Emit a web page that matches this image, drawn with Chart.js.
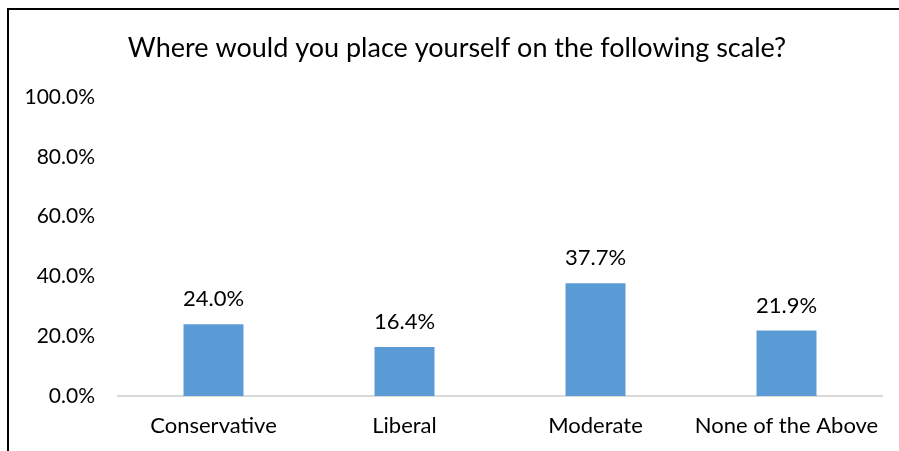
<!DOCTYPE html>
<html>
<head>
<meta charset="utf-8">
<script src="https://cdn.jsdelivr.net/npm/chart.js@4.4.1/dist/chart.umd.min.js"></script>
<style>
  body { margin: 0; background: #fff; overflow: hidden; }
  #caixa { position: absolute; left: 7px; top: 8px; border-left: 2px solid #000; border-top: 2px solid #000; }
  canvas { display: block; }
</style>
</head>
<body>
<div id="caixa"><canvas id="grafico" width="920" height="460"></canvas></div>
<script>
// Dados do gráfico
const categorias = ['Conservative', 'Liberal', 'Moderate', 'None of the Above'];
const valores = [24.0, 16.4, 37.7, 21.9];
const ticksY = [0, 20, 40, 60, 80, 100];
const titulo = 'Where would you place yourself on the following scale?';

const fonte = 'Lato, "Open Sans", sans-serif';

// Plugin simples para escrever o valor em cima de cada barra e o título
const rotulosBarras = {
    id: 'rotulosBarras',
    afterDatasetsDraw(chart) {
        const ctx = chart.ctx;
        const meta = chart.getDatasetMeta(0);
        ctx.save();
        ctx.font = '22px ' + fonte;
        ctx.fillStyle = '#000';
        ctx.textAlign = 'center';
        ctx.textBaseline = 'alphabetic';
        meta.data.forEach((barra, i) => {
            ctx.fillText(valores[i].toFixed(1) + '%', barra.x, barra.y - 18);
        });
        // título centrado na caixa inteira do gráfico (que passa da borda da janela)
        ctx.font = '27px ' + fonte;
        ctx.textBaseline = 'middle';
        ctx.fillText(titulo, 448, 38);
        ctx.restore();
    }
};

const ctxBarra = document.getElementById('grafico').getContext('2d');
const graficoBarra = new Chart(ctxBarra, {
    type: 'bar',
    data: {
        labels: categorias,
        datasets: [{
            data: valores,
            backgroundColor: '#5b9bd5',
            borderWidth: 0,
            barPercentage: 0.314,
            categoryPercentage: 1
        }]
    },
    options: {
        responsive: false,
        animation: false,
        layout: { padding: { left: 0, right: 47, top: 87, bottom: 24 } },
        plugins: {
            legend: { display: false },
            tooltip: { enabled: false },
            title: { display: false }
        },
        scales: {
            x: {
                grid: { display: false, drawTicks: false },
                border: { display: true, color: '#d9d9d9', width: 2 },
                ticks: { color: '#000', font: { family: fonte, size: 22 }, padding: 17 },
                afterFit(scale) { scale.height = 50; }
            },
            y: {
                min: 0,
                max: 100,
                grid: { display: false, drawTicks: false },
                border: { display: false },
                afterBuildTicks(scale) { scale.ticks = ticksY.map(v => ({ value: v })); },
                ticks: {
                    color: '#000',
                    font: { family: fonte, size: 21 },
                    padding: 23,
                    callback: (v) => v.toFixed(1) + '%'
                },
                afterFit(scale) { scale.width = 109; }
            }
        }
    },
    plugins: [rotulosBarras]
});
</script>
</body>
</html>
